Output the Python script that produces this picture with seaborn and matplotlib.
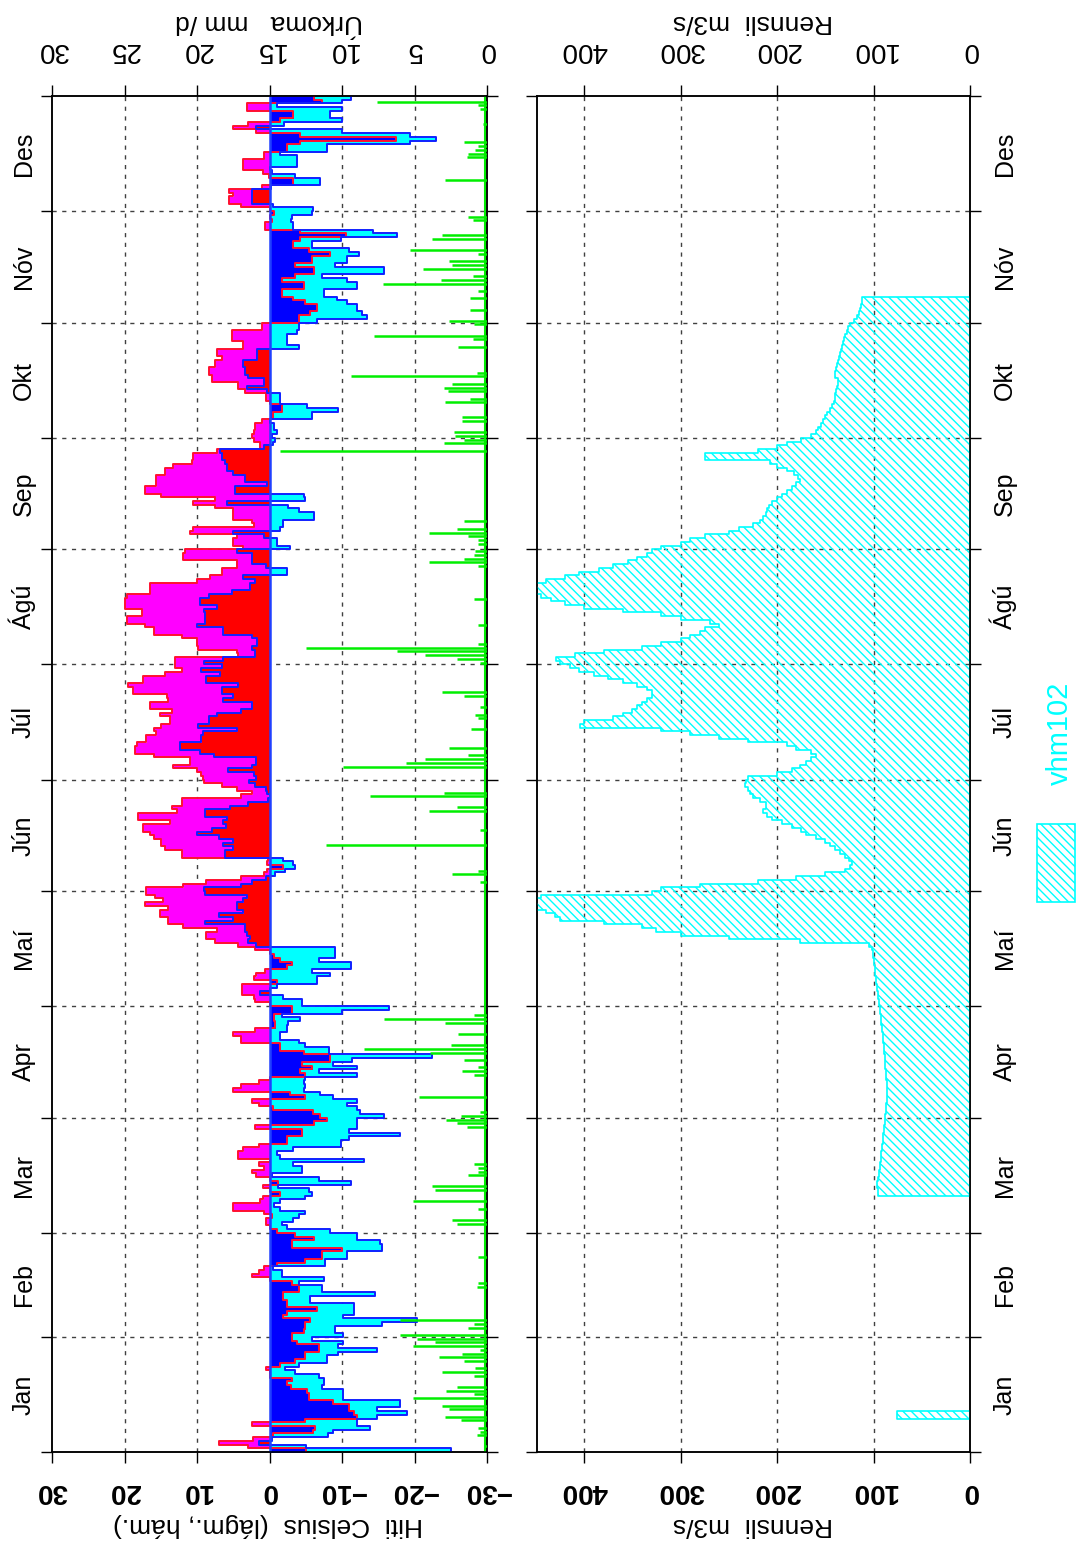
import numpy as np
import pandas as pd
import matplotlib
matplotlib.use("Agg")
import matplotlib.pyplot as plt
import matplotlib.transforms as mtransforms
from matplotlib.patches import Rectangle
import seaborn as sns

# DATA
months = ["Jan", "Feb", "Mar", "Apr", "Maí", "Jún", "Júl", "Ágú", "Sep", "Okt", "Nóv", "Des"]
month_days = [31, 28, 31, 30, 31, 30, 31, 31, 30, 31, 30, 31]

tmax = [
    # Jan
    -5, 3, 7, 2.3, -0.5, -6, -6.3, 2.4, -4.9, -12, -11.6, -10.9, -10.9, -8.8, -5.4, -5.4,
    -5.2, -3, -2.4, -3.1, -0.1, -0.1, 0.5, -1.5, -3.5, -4.9, -4.9, -6.8, -6.8, -3.8, -3.1,
    # Feb
    -3.1, -4.7, -4.9, -4.9, -5.6, -1.9, -2.4, -6.5, -2.4, -2.4, -1.9, -1.9, -4, -4,
    -3.1, -0.1, 2.4, 1.5, 0.8, -1, -4.9, -7.2, -7.2, -10, -3.1, -3.1, -6.1, -3.5,
    # Mar
    -1, -0.1, 0.5, 0.5, -0.3, 0.8, 5, 5, 1.3, 0.9, -1.5, -0.1, 0.9, -1.2, -0.1, 1.8,
    2.4, 0.8, 1.5, -0.1, 4.3, 4.3, 3.6, 1.5, -2.4, -2.4, -4.5, -4.5, 2, -6.1, -7.9,
    # Apr
    -7, -6, -0.5, 1.5, 2.4, -4.9, -2.8, 5, 4, 1.5, -0.1, -4.9, -4.2, -5.9, -4.5,
    -8.4, -8.4, -4.7, -1.5, -1.5, 4, 4, 5, 2, -0.8, -0.8, -0.6, -0.6, -3.1, -3.1,
    # Mai
    -0.1, 2, 2.2, 3.8, 3.8, 3.8, -1, 2.2, 1.8, 0.6, -2.4, -3.1, -1.5, -0.6, -0.1, 2,
    4.3, 7.5, 8.8, 8.8, 7.3, 11.9, 14, 14, 15.1, 15.1, 14, 17.2, 14.7, 15.8, 17,
    # Jun
    17, 11.9, 8.7, 4, 0.8, 0.4, -1.9, 0.3, 0.2, 12.1, 12.1, 14.4, 14.9, 14.9, 16,
    16.5, 17.4, 17.4, 13.7, 18.1, 18.1, 12.8, 13.5, 12.1, 12.1, 4, 2.4, 4.5, 6.6, 9.1,
    # Jul
    9.2, 9.4, 10, 13.3, 11, 11, 16, 18.6, 18.6, 18.3, 17, 17, 15.6, 16, 14.9, 13.7,
    13.7, 15.1, 13.5, 16.5, 16.5, 14, 14.2, 18.8, 18.8, 19.5, 17.4, 17.4, 14.4, 12.1, 13,
    # Agu
    13, 13, 4.3, 4.5, 9.8, 10, 10, 12.1, 16, 16, 17.2, 19.7, 19.7, 17.6, 17.6, 20,
    20, 20, 19.7, 16.5, 16.5, 16.5, 10, 8.2, 6.6, 6.6, 4.5, 4.5, 11.9, 11.9, 11.7,
    # Sep
    3.6, 5, 5, 4.5, 11, 10.5, 2.2, 2.4, 5, 5, 5, 7.5, 10.5, 7.5, 14.9,
    17.2, 17.2, 15.6, 15.6, 15.6, 14.4, 14.4, 13.3, 10.7, 10.5, 10.5, 7.3, 1.3, 1.3, 2.2,
    # Okt
    2.4, 2.2, 2, 2, 1, -0.5, -0.5, -1.7, -1.7, -0.1, 0.5, 0.5, 3.4, 4.3, 4.3, 8,
    8, 8.4, 8.4, 7.5, 7.5, 6.6, 7.3, 7.3, 3.6, 3.6, 5.2, 5.2, 5.2, 1, 1,
    # Nov
    -4, -4, -5.6, -6.5, -6.5, -4.9, -3.3, -1.7, -1.7, -4.7, -4.7, -1.7, -3.5, -6.1, -6.1,
    -3.5, -5.8, -5.8, -8.4, -5.4, -3.3, -3.3, -4.2, -10.5, -4.2, 0.6, 0.6, -0.3, -0.1, -0.6,
    # Des
    -0.1, 4, 5.6, 5.6, 5, 5.6, 1, -3.3, -3.3, 0.1, 0.9, 3.6, 3.6, 3.6, 0.8, 0.8,
    -2.4, -2.4, -4.2, -17.4, -4.2, 1.8, 5, 3, -1.5, -3.3, -3.3, 3.1, 3.1, -7.2, -6.1,
]

tmin = [
    # Jan
    -25, -5, 1.5, -0.4, -8, -8.8, -13.9, -12, -12, -14.8, -19, -14.8, -18, -18, -10.2, -10.2,
    -10.2, -7.2, -7.5, -7.5, -6.8, -3.5, -2.2, -4, -7.9, -7.9, -9.5, -14.8, -9.5, -10.2, -5.9,
    # Feb
    -10.2, -9.1, -9.1, -15.5, -20.4, -10.2, -11.6, -11.6, -11.6, -5.6, -5.6, -14.6, -7.2, -7.2,
    -4, -7.5, -1.7, -1.7, -0.5, -7.7, -7.7, -10.7, -10.7, -15.5, -15.5, -15.3, -12, -12,
    # Mar
    -8.4, -2.4, -1.7, -3.3, -4, -4.9, -1.5, -0.6, -1.5, -4.9, -5.9, -5.4, -1.2, -11.2, -6.8, -0.3,
    -4.5, -4.5, -3.3, -13, -1.5, -1, -3.3, -9.8, -9.8, -10.9, -18, -10.9, -12, -12, -12,
    # Apr
    -15.8, -12.5, -12, -10.7, -12, -8.8, -7, -4.7, -4.9, -4.7, -4.9, -12, -6.8, -12, -8.8,
    -11.4, -22.4, -8.2, -8.2, -4.9, -4, -1.5, -1.5, -2.4, -2.4, -2.6, -4.2, -1.7, -10, -16.5,
    # Mai
    -4.5, -4.5, -1.9, 1.3, -0.1, -1, -6.5, -6.5, -8.4, -5.9, -11.2, -11.2, -6.8, -9.1, -9.1, -9,
    1.8, 2.9, 2.7, 3.1, 3.4, 3.4, 8.9, 5, 7, 3.6, 4.5, 4.5, 3.6, 3.1, 8.9,
    # Jun
    9, 4, 2.4, 0.5, -0.8, -2.2, -3.5, -3.2, -1.9, 6.1, 6.1, 5, 6.4, 5, 7,
    10, 8, 6, 6.4, 5.9, 8.9, 8.9, 5.5, 3, 0.2, -0.1, 0.3, 0.5, 2, 2.8,
    # Jul
    1.9, 2.2, 5.7, 2.4, 1.8, 1.8, 7.7, 9.6, 12.4, 12.4, 9.4, 9.4, 9.2, 4.5, 9.8, 8.4,
    8.4, 7.3, 4, 2.4, 2.4, 6.4, 5, 6.6, 6.6, 4.3, 8.7, 8.7, 6.8, 9.4, 6.6,
    # Agu
    9.1, 6.4, 2, 2, 2.4, 1.7, 1.7, 2.4, 6.4, 6.4, 10, 8.9, 8.9, 8.9, 9, 7.3,
    9.6, 9.6, 8.4, 5.2, 2.7, 2.7, 2, 3.6, -2.4, -2.4, 0.5, 2.4, 2.4, 2.4, 4.5,
    # Sep
    -2.8, -1, -1, 0.8, 5, -1.5, -1.9, -1.9, -6.2, -6.2, -4, -2.6, 5.9, -4.9, -4.8,
    4.7, 4.7, 0.4, 3.4, 3.4, 5, 5.8, 5.8, 6.1, 6.6, 6.6, 6.8, 0.8, -0.5, -0.8,
    # Okt
    -0.3, -1, -0.6, -0.6, -0.1, -5.9, -5.9, -9.5, -5.2, -1.5, -1.5, -1.5, 0.3, 3.1, 0.8, 0.8,
    2.9, 3.4, 3.4, 3.6, 3.6, 1.7, 1.7, 1.7, -4, -2.4, -2.4, -2.4, -3.8, -4, -4,
    # Nov
    -6.5, -13.5, -12.8, -12, -12, -10.7, -9.3, -7.5, -7.5, -12, -12, -10.7, -7.2, -15.8, -15.8,
    -9, -10.7, -10.7, -12.3, -10.9, -5.9, -5.9, -9.8, -17.6, -14.3, -3.3, -3.3, -2.9, -3.1, -5.9,
    # Des
    -6, -0.5, 2.4, 2.4, 2.4, 2.4, -0.2, -7, -7, -3.5, -0.3, -0.1, -3.8, -3.8, -3.8, -1.5,
    -7.9, -7.9, -19.4, -23, -19.4, -10, 1.8, -2, -10, -8.4, -8.4, -10, -1, -10, -11.2,
]

precip_day = [1, 4, 5, 6, 8, 9, 11, 12, 14, 15, 16, 17, 20, 21, 22, 24, 25, 26, 27, 28, 29, 30,
              31, 33, 34, 35, 44, 45, 52, 61, 62, 65, 67, 70, 71, 74, 75, 76, 77, 87, 88, 89,
              90, 91, 95, 101, 102, 103, 105, 107, 108, 109, 112, 115, 116, 117, 153, 155, 156,
              163, 167, 172, 173, 176, 177, 184, 185, 186, 187, 189, 194, 197, 198, 200, 203,
              204, 212, 213, 214, 215, 216, 217, 222, 229, 238, 239, 240, 241, 242, 244, 245,
              246, 247, 248, 250, 269, 271, 272, 273, 274, 277, 278, 282, 283, 285, 286, 287,
              289, 290, 297, 299, 300, 303, 304, 307, 310, 312, 314, 315, 316, 318, 319, 320,
              322, 323, 326, 327, 331, 332, 342, 348, 349, 350, 351, 352, 357, 361, 362, 363]
precip_mm = [0.2, 0.7, 0.5, 0.6, 1.8, 2.9, 2.6, 3.1, 5.1, 0.9, 2.8, 2.1, 0.9, 3.1, 0.8, 1.6, 3.3,
             1.7, 0.5, 5.1, 3.6, 4.8, 6, 1.3, 0.9, 6, 0.7, 0.6, 0.6, 2.1, 2.4, 0.6, 5.1, 3.6, 3.8,
             1.3, 0.6, 0.6, 0.9, 1.4, 2.1, 2.8, 1.8, 0.5, 4.7, 0.9, 1.7, 0.6, 1.6, 3.9, 8.5, 2.5,
             2, 2.9, 7.1, 0.9, 0.5, 2.4, 0.6, 11.1, 0.5, 4, 2.1, 8.1, 3, 9.9, 5.6, 4.3, 1.3, 2.6,
             1.1, 0.6, 0.8, 0.5, 1.6, 3.1, 0.5, 2.1, 4.3, 6.2, 12.5, 0.6, 0.6, 0.9, 0.6, 4, 1.6,
             0.9, 0.8, 0.6, 0.6, 1.3, 4, 2.1, 1.6, 14.3, 3, 1.6, 2.2, 2.3, 1.7, 1.7, 2.9, 1.2,
             2.7, 3, 2.4, 9.4, 0.7, 2, 1, 7.8, 0.9, 2.6, 1.2, 1.2, 0.6, 7.2, 3.2, 1, 4.4, 2.4,
             2.6, 0.6, 5.3, 3.8, 3.1, 1, 1.3, 2.9, 1.4, 1.3, 0.8, 0.6, 1.6, 0.3, 0.5, 0.6, 7.6]

# Rennsli (m3/s), two stretches of days
flow_jan_start = 9
flow_jan = [76, 76]
flow_start = 69
flow = [
    95, 95, 96, 96, 95, 94, 94, 93, 93, 92,
    92, 92, 91, 91, 90, 90, 90, 89, 89, 88,
    88, 88, 87, 87, 87, 86, 86, 86, 86, 86,
    86, 87, 87, 87, 88, 88, 88, 88, 89, 89,
    89, 90, 90, 90, 91, 91, 92, 92, 92, 93,
    93, 94, 94, 95, 95, 96, 96, 97, 97, 98,
    98, 99, 100, 100, 101, 101, 102, 105, 176, 250,
    300, 326, 340, 380, 425, 430, 440, 455, 460, 455,
    445, 330, 320, 280, 220, 180, 150, 130, 124, 122,
    125, 130, 135, 140, 145, 150, 160, 170, 175, 185,
    195, 205, 210, 215, 212, 212, 218, 225, 228, 230,
    233, 232, 230, 200, 185, 176, 170, 165, 160, 165,
    180, 190, 230, 260, 290, 320, 404, 400, 370, 360,
    350, 345, 340, 335, 330, 330, 335, 345, 360, 375,
    390, 405, 415, 425, 429, 410, 380, 340, 320, 300,
    290, 280, 275, 260, 270, 300, 320, 360, 400, 420,
    435, 445, 455, 460, 455, 440, 420, 405, 385, 370,
    355, 345, 335, 330, 320, 300, 290, 275, 250, 240,
    225, 218, 215, 212, 210, 208, 205, 200, 195, 190,
    185, 180, 176, 178, 182, 190, 200, 207, 275, 275,
    220, 200, 190, 175, 165, 160, 158, 155, 152, 150,
    148, 145, 143, 141, 140, 140, 139, 138, 137, 137,
    140, 140, 139, 138, 137, 136, 135, 134, 133, 132,
    131, 130, 128, 126, 124, 120, 117, 115, 114, 113,
    112, 112,
]

temp_ticks = [30, 20, 10, 0, -10, -20, -30]
precip_ticks = [0, 5, 10, 15, 20, 25, 30]
flow_ticks = [0, 100, 200, 300, 400]

# STYLE
sns.set_theme(style="white")
plt.rcParams["font.family"] = ["Liberation Sans", "DejaVu Sans"]
plt.rcParams["hatch.linewidth"] = 1.0
plt.rcParams["axes.unicode_minus"] = True

W, H = 1080, 1545
fig = plt.figure(figsize=(W / 100, H / 100), dpi=100)

def fx(px):
    return px / W

def fy(py):
    return 1 - py / H

ax = fig.add_axes([fx(52), fy(1452), fx(487) - fx(52), fy(96) - fy(1452)])
axq = fig.add_axes([fx(537), fy(1452), fx(970) - fx(537), fy(96) - fy(1452)])

df = pd.DataFrame({"day": np.arange(365), "tmax": tmax, "tmin": tmin})
yy = np.arange(366)
hi = np.append(df["tmax"].values, df["tmax"].values[-1])
lo = np.append(df["tmin"].values, df["tmin"].values[-1])

MAG, CYA, RED, BLU = "#ff00ff", "#00ffff", "#ff0000", "#0000ff"

ax.fill_betweenx(yy, 0, np.clip(hi, 0, None), step="post", color=MAG, lw=0, zorder=2)
ax.fill_betweenx(yy, 0, np.clip(lo, None, 0), step="post", color=CYA, lw=0, zorder=2)
ax.fill_betweenx(yy, 0, np.clip(lo, 0, None), step="post", color=RED, lw=0, zorder=3)
ax.fill_betweenx(yy, 0, np.clip(hi, None, 0), step="post", color=BLU, lw=0, zorder=3)

line_df = pd.DataFrame({"day": yy, "hi": hi, "lo": lo})
sns.lineplot(data=line_df, x="hi", y="day", orient="y", sort=False, estimator=None,
             drawstyle="steps-pre", color="#ff1030", lw=1.4, ax=ax, zorder=4)
sns.lineplot(data=line_df, x="lo", y="day", orient="y", sort=False, estimator=None,
             drawstyle="steps-pre", color="#1020ff", lw=1.4, ax=ax, zorder=5)
ax.axvline(0, color="#2040ff", lw=1.8, zorder=6)

grid_kw = dict(color="#404040", lw=1.0, ls=(0, (3, 4)), zorder=1)
bounds = np.cumsum([0] + month_days)
for b in bounds[1:-1]:
    ax.axhline(b, **grid_kw)
    axq.axhline(b, **grid_kw)
for t in [20, 10, -10, -20]:
    ax.axvline(t, **grid_kw)
for q in [100, 200, 300, 400]:
    axq.axvline(q, **grid_kw)

ax.set_xlim(30, -30)
ax.set_ylim(0, 365)
ax.set_xticks(temp_ticks)
ax.set_yticks(bounds)
ax.set_xlabel("")
ax.set_ylabel("")

# precipitation on the top axis
axp = ax.twiny()
axp.set_xlim(30, 0)
axp.hlines(np.array(precip_day) + 0.5, 0, precip_mm, color="#00ee00", lw=1.8, zorder=3)
axp.axvline(0.12, color="#00ee00", lw=1.5, zorder=2)
axp.set_xticks(precip_ticks)

# flow panel
def flow_fill(start, vals):
    y = np.arange(start, start + len(vals) + 1)
    v = np.append(vals, vals[-1])
    axq.fill_betweenx(y, 0, v, step="post", facecolor="none", edgecolor=CYA,
                      hatch="\\\\\\\\", lw=1.2, zorder=3)

flow_fill(flow_jan_start, flow_jan)
flow_fill(flow_start, flow)
axq.set_xlim(449, 0)
axq.set_ylim(0, 365)
axq.set_xticks(flow_ticks)
axq.set_yticks(bounds)
axq_top = axq.twiny()
axq_top.set_xlim(449, 0)
axq_top.set_xticks(flow_ticks)

for a in [ax, axq, axp, axq_top]:
    for s in a.spines.values():
        s.set_color("black")
        s.set_linewidth(1.1)

tick_kw = dict(direction="out", length=8, width=1, color="black", labelsize=20,
               labelcolor="black", labelrotation=180)
ax.tick_params(axis="x", bottom=True, top=False, pad=10.5, **tick_kw)
axq.tick_params(axis="x", bottom=True, top=False, pad=10.5, **tick_kw)
axp.tick_params(axis="x", bottom=False, top=True, labelbottom=False, labeltop=True, pad=16, **tick_kw)
axq_top.tick_params(axis="x", bottom=False, top=True, labelbottom=False, labeltop=True, pad=16, **tick_kw)
for a in [ax, axq]:
    a.tick_params(axis="y", left=True, right=True, labelleft=False, labelright=False,
                  direction="out", length=8, width=1, color="black")
    plt.setp(a.get_xticklabels(), fontweight="bold")

# axis titles (upside-down like the reference)
lab_kw = dict(rotation=180, rotation_mode="anchor", ha="center", va="baseline", fontsize=19,
              color="black")
fig.text(fx(268), fy(1518), "Hiti  Celsius  (lágm., hám.)", **lab_kw)
fig.text(fx(269), fy(15), "Úrkoma   mm /d", **lab_kw)
fig.text(fx(753), fy(1518), "Rennsli  m3/s", **lab_kw)
fig.text(fx(753), fy(15), "Rennsli  m3/s", **lab_kw)

# month names
mids = bounds[:-1] + np.array(month_days) / 2
tr_left = mtransforms.blended_transform_factory(fig.transFigure, ax.transData)
tr_right = mtransforms.blended_transform_factory(fig.transFigure, axq.transData)
for name, m in zip(months, mids):
    ax.text(fx(31), m, name, transform=tr_left, rotation=90, rotation_mode="anchor",
            ha="center", va="baseline", fontsize=18, color="black")
    axq.text(fx(1012), m, name, transform=tr_right, rotation=90, rotation_mode="anchor",
             ha="center", va="baseline", fontsize=18, color="black")

# legend
fig.patches.append(Rectangle((fx(1037), fy(902)), fx(1075) - fx(1037), fy(824) - fy(902),
                             transform=fig.transFigure, facecolor="none", edgecolor=CYA,
                             hatch="\\\\\\\\", lw=1.2))
fig.text(fx(1068), fy(733), "vhm102", rotation=90, rotation_mode="anchor", ha="center",
         va="baseline", fontsize=21, color=CYA)

fig.savefig("out.png", dpi=100)
